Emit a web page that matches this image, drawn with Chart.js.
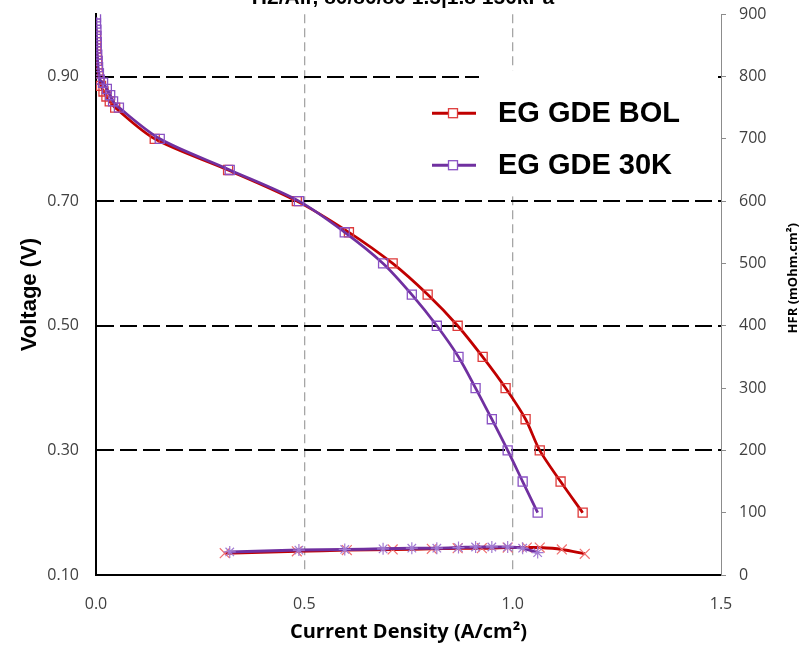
<!DOCTYPE html>
<html>
<head>
<meta charset="utf-8">
<script src="https://cdn.jsdelivr.net/npm/chart.js@4.4.0/dist/chart.umd.min.js"></script>
<style>
  html, body { margin: 0; padding: 0; background: #fff; overflow: hidden; }
  #wrap { position: absolute; left: 0; top: -14px; width: 806px; height: 664px; }
</style>
</head>
<body>
<div id="wrap"><canvas id="polCurve" width="806" height="664"></canvas></div>
<script>
// Polarization curves (V) and HFR
const chartTitle = "H2/Air, 80/80/80 1.5|1.8 150kPa"

const bolCurrent = [0.000, 0.001, 0.001, 0.002, 0.003, 0.004, 0.006, 0.008, 0.012, 0.018, 0.025, 0.033, 0.046,
  0.141, 0.317, 0.482, 0.607, 0.712, 0.796, 0.868, 0.928, 0.983, 1.031, 1.065, 1.115, 1.168]
const bolVoltage = [0.965, 0.955, 0.945, 0.935, 0.925, 0.915, 0.905, 0.895, 0.885, 0.876, 0.868, 0.860, 0.850,
  0.80, 0.75, 0.70, 0.65, 0.60, 0.55, 0.50, 0.45, 0.40, 0.35, 0.30, 0.25, 0.20]

const k30Current = [0.000, 0.000, 0.001, 0.001, 0.002, 0.002, 0.003, 0.004, 0.005, 0.007, 0.009, 0.017, 0.026, 0.034, 0.041, 0.055,
  0.153, 0.321, 0.487, 0.597, 0.689, 0.758, 0.818, 0.870, 0.911, 0.950, 0.988, 1.024, 1.060]
const k30Voltage = [0.995, 0.985, 0.975, 0.965, 0.955, 0.945, 0.935, 0.925, 0.915, 0.905, 0.895, 0.890, 0.880, 0.870, 0.860, 0.850,
  0.80, 0.75, 0.70, 0.65, 0.60, 0.55, 0.50, 0.45, 0.40, 0.35, 0.30, 0.25, 0.20]

const bolHfrCurrent = [0.309, 0.482, 0.602, 0.712, 0.806, 0.868, 0.926, 0.988, 1.034, 1.065, 1.118, 1.173]
const bolHfr = [35, 38, 40, 41, 42, 43, 43, 44, 44, 44, 41, 34]
const k30HfrCurrent = [0.321, 0.487, 0.597, 0.689, 0.758, 0.818, 0.870, 0.911, 0.950, 0.988, 1.024, 1.060]
const k30Hfr = [37, 40, 41, 42, 43, 43, 44, 45, 45, 45, 43, 36]

const voltTicks = [0.1, 0.3, 0.5, 0.7, 0.9]

const RED = "#c00000"
const PURPLE = "#7030a0"

const toPoints = (xs, ys) => xs.map((x, i) => ({ x: x, y: ys[i] }))

// legend drawn inside the plot, plus the right axis title (reads bottom to top)
const insideLegend = {
  id: "insideLegend",
  afterDraw(chart) {
    const { ctx, chartArea } = chart
    const r = chartArea.right
    const t = chartArea.top
    const items = chart.data.datasets.filter((d) => d.inLegend)

    ctx.save()
    ctx.fillStyle = "#ffffff"
    ctx.fillRect(r - 242, t + 56, 236, 126)

    items.forEach((d, i) => {
      const y = t + 99 + i * 52
      ctx.strokeStyle = d.borderColor
      ctx.lineWidth = 3
      ctx.beginPath()
      ctx.moveTo(r - 289, y)
      ctx.lineTo(r - 245, y)
      ctx.stroke()
      ctx.strokeStyle = d.pointBorderColor
      ctx.lineWidth = 1.3
      ctx.fillStyle = "#ffffff"
      ctx.fillRect(r - 272.5, y - 4.5, 9, 9)
      ctx.strokeRect(r - 272.5, y - 4.5, 9, 9)
      ctx.fillStyle = "#000000"
      ctx.font = "bold 29px 'Liberation Sans', Arial, sans-serif"
      ctx.textAlign = "left"
      ctx.textBaseline = "middle"
      ctx.fillText(d.label, r - 223, y + 1)
    })

    ctx.translate(793, t + 264)
    ctx.rotate(-Math.PI / 2)
    ctx.fillStyle = "#000000"
    ctx.font = "bold 13px 'Open Sans', sans-serif"
    ctx.textAlign = "center"
    ctx.textBaseline = "middle"
    ctx.fillText("HFR (mOhm.cm²)", 0, 0)
    ctx.restore()
  },
}

const tickFont = { family: "'Open Sans', sans-serif", size: 16 }

new Chart(document.getElementById("polCurve"), {
  type: "scatter",
  data: {
    datasets: [
      {
        label: "EG GDE 30K",
        inLegend: false,
        data: toPoints(k30HfrCurrent, k30Hfr),
        yAxisID: "y1",
        showLine: true,
        borderColor: PURPLE,
        borderWidth: 3,
        tension: 0.3,
        pointStyle: "star",
        pointRadius: 6,
        pointBorderWidth: 1.2,
        pointBorderColor: "#a27bd2",
        pointBackgroundColor: "rgba(0,0,0,0)",
        order: 0,
      },
      {
        label: "EG GDE BOL",
        inLegend: false,
        data: toPoints(bolHfrCurrent, bolHfr),
        yAxisID: "y1",
        showLine: true,
        borderColor: RED,
        borderWidth: 3,
        tension: 0.3,
        pointStyle: "crossRot",
        pointRadius: 7,
        pointBorderWidth: 1.2,
        pointBorderColor: "#f07070",
        pointBackgroundColor: "rgba(0,0,0,0)",
        order: 1,
      },
      {
        label: "EG GDE BOL",
        inLegend: true,
        data: toPoints(bolCurrent, bolVoltage),
        yAxisID: "y",
        showLine: true,
        borderColor: RED,
        borderWidth: 2.75,
        tension: 0.3,
        pointStyle: "rect",
        pointRadius: 6.4,
        pointBorderWidth: 1.3,
        pointBorderColor: "#de3a3a",
        pointBackgroundColor: "rgba(0,0,0,0)",
        order: 3,
      },
      {
        label: "EG GDE 30K",
        inLegend: true,
        data: toPoints(k30Current, k30Voltage),
        yAxisID: "y",
        showLine: true,
        borderColor: PURPLE,
        borderWidth: 2.75,
        tension: 0.3,
        pointStyle: "rect",
        pointRadius: 6.4,
        pointBorderWidth: 1.3,
        pointBorderColor: "#8a52c4",
        pointBackgroundColor: "rgba(0,0,0,0)",
        order: 2,
      },
    ],
  },
  options: {
    responsive: false,
    animation: false,
    layout: { padding: 0 },
    plugins: {
      legend: { display: false },
      tooltip: { enabled: false },
      title: {
        display: true,
        text: chartTitle,
        color: "#000000",
        font: { family: "'Liberation Sans', Arial, sans-serif", size: 21, weight: "bold" },
        padding: { top: 0, bottom: 3 },
      },
    },
    scales: {
      x: {
        type: "linear",
        min: 0,
        max: 1.5,
        afterFit: (scale) => { scale.height = 75 },
        border: { color: "#000000", width: 2, dash: [9, 5] },
        grid: {
          drawTicks: false,
          color: (c) => (c.tick && (c.tick.value === 0 || c.tick.value === 1.5) ? "rgba(0,0,0,0)" : "#a6a6a6"),
          lineWidth: 1.3,
        },
        ticks: {
          stepSize: 0.5,
          padding: 20,
          color: "#404040",
          font: tickFont,
          callback: (v) => v.toFixed(1),
        },
        title: {
          display: true,
          text: "Current Density (A/cm²)",
          color: "#000000",
          font: { family: "'Open Sans', sans-serif", size: 20, weight: "bold" },
          padding: { top: 0, bottom: 5.5 },
        },
      },
      y: {
        type: "linear",
        position: "left",
        min: 0.1,
        max: 1.0,
        afterFit: (scale) => { scale.width = 96 },
        afterBuildTicks: (scale) => { scale.ticks = voltTicks.map((v) => ({ value: v })) },
        border: { color: "#000000", width: 2, dash: [17, 6] },
        grid: {
          drawTicks: false,
          color: (c) => (c.tick && c.tick.value === 0.1 ? "rgba(0,0,0,0)" : "#000000"),
          lineWidth: 2,
        },
        ticks: {
          padding: 17,
          color: "#404040",
          font: tickFont,
          callback: (v) => v.toFixed(2),
        },
        title: {
          display: true,
          text: "Voltage (V)",
          color: "#000000",
          font: { family: "'Liberation Sans', Arial, sans-serif", size: 22, weight: "bold" },
          padding: { top: 17, bottom: 0 },
        },
      },
      y1: {
        type: "linear",
        position: "right",
        min: 0,
        max: 900,
        afterFit: (scale) => { scale.width = 85 },
        border: { color: "#8c8c8c", width: 1 },
        grid: {
          drawOnChartArea: false,
          drawTicks: true,
          tickLength: 5,
          tickColor: "#8c8c8c",
        },
        ticks: {
          stepSize: 100,
          padding: 13,
          color: "#404040",
          font: tickFont,
        },
      },
    },
  },
  plugins: [insideLegend],
})
</script>
</body>
</html>
